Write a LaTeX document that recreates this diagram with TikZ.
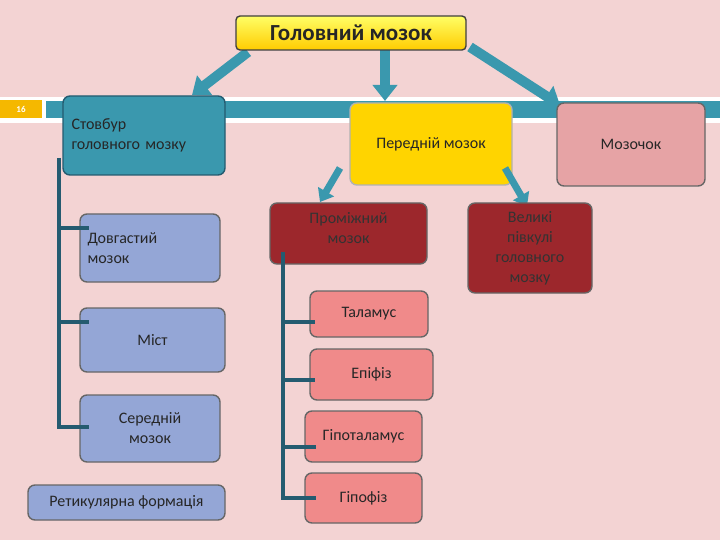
\documentclass[tikz,border=0pt]{standalone}
\usepackage{fontspec}
\setmainfont{Carlito}
\usetikzlibrary{arrows.meta}
\definecolor{bg}{HTML}{F3D3D3}
\definecolor{teal}{HTML}{3A98AE}
\definecolor{dteal}{HTML}{245B70}
\definecolor{yel}{HTML}{FFD400}
\definecolor{ros}{HTML}{E6A3A5}
\definecolor{lav}{HTML}{94A6D6}
\definecolor{dred}{HTML}{9C272C}
\definecolor{pnk}{HTML}{F08A8A}
\definecolor{orng}{HTML}{F5B800}
\tikzset{
 bx/.style={draw=black!60,line width=1.4pt,rounded corners=7pt,inner sep=2pt,font=\fontsize{16}{20}\selectfont,align=center,text=black!85},
 blk/.style={line width=10pt,draw=teal,-{Triangle[width=24pt,length=16pt]}},
 sblk/.style={line width=7pt,draw=teal,-{Triangle[width=18pt,length=12pt]}},
 br/.style={draw=dteal,line width=4pt}
}
\newcommand{\bxat}[5]{\node[bx,#1,minimum width=#4pt,minimum height=#5pt] (#2) at (#3) }
\begin{document}
\begin{tikzpicture}[x=1pt,y=-1pt]
\fill[bg] (0,0) rectangle (720,540);
\useasboundingbox (0,0) rectangle (720,540);
\fill[white] (0,97) rectangle (720,123);
\fill[orng] (0,100) rectangle (42,118);
\fill[teal] (46,101) rectangle (720,118);
\node[text=white,font=\fontsize{9}{10}\selectfont\bfseries] (num) at (21,109) {16};
% arrow coordinates
\coordinate (a1s) at (248,52); \coordinate (a1e) at (192,95);
\coordinate (a2s) at (385,50); \coordinate (a2e) at (385,101);
\coordinate (a3s) at (470,47); \coordinate (a3e) at (560,105);
\coordinate (a4s) at (340,168); \coordinate (a4e) at (320,202);
\coordinate (a5s) at (505,168); \coordinate (a5e) at (527,206);
\draw[blk] (a1s) -- (a1e);
\draw[blk] (a2s) -- (a2e);
\draw[blk] (a3s) -- (a3e);
% boxes
\node[bx,top color=yellow!60,bottom color=yel!90!orange,draw=black!75,minimum width=230pt,minimum height=34pt,rounded corners=4pt,font=\fontsize{23}{26}\selectfont\bfseries] (main) at (351,33) {Головний мозок};
\bxat{fill=teal,draw=dteal,align=left,text width=145pt}{st}{144,135.5}{162}{79}{Стовбур\\головного мозку};
\bxat{fill=yel,draw=black!30}{pm}{431,144}{162}{82}{Передній мозок};
\bxat{fill=ros}{cb}{631,144.5}{148}{83}{Мозочок};
\draw[sblk] (a4s) -- (a4e);
\draw[sblk] (a5s) -- (a5e);
\bxat{fill=lav,align=left,text width=125pt}{dv}{150,248}{140}{68}{Довгастий\\мозок};
\bxat{fill=lav}{mi}{152.5,340}{145}{64}{\raisebox{-4pt}{Міст}};
\bxat{fill=lav}{se}{150,428.5}{140}{67}{Середній\\мозок};
\bxat{fill=lav}{re}{126.5,502.5}{197}{35}{Ретикулярна формація};
\bxat{fill=dred,text=black!80}{pr}{348.5,233.5}{157}{61}{Проміжний\\мозок\\[-8pt]~};
\bxat{fill=dred,text=black!80}{vk}{530,248}{124}{90}{Великі\\півкулі\\головного\\мозку};
\bxat{fill=pnk}{ta}{369,314}{118}{46}{Таламус};
\bxat{fill=pnk}{ep}{371.5,374.5}{123}{51}{Епіфіз};
\bxat{fill=pnk}{gt}{363.5,436.5}{117}{51}{Гіпоталамус};
\bxat{fill=pnk}{gf}{363.5,498}{117}{50}{Гіпофіз};
% trees
\coordinate (lt) at (59,158);
\draw[br] (lt) -- (59,429);
\draw[br] (57,228) -- ([xshift=10pt]dv.west |- 0,228);
\draw[br] (57,322) -- ([xshift=10pt]mi.west |- 0,322);
\draw[br] (57,427) -- ([xshift=10pt]se.west |- 0,427);
\coordinate (rt) at (283,252);
\draw[br] (rt) -- (283,500);
\draw[br] (281,322) -- ([xshift=6pt]ta.west |- 0,322);
\draw[br] (281,380) -- ([xshift=6pt]ep.west |- 0,380);
\draw[br] (281,447) -- ([xshift=12pt]gt.west |- 0,447);
\draw[br] (281,498) -- ([xshift=12pt]gf.west |- 0,498);
\end{tikzpicture}
\end{document}
